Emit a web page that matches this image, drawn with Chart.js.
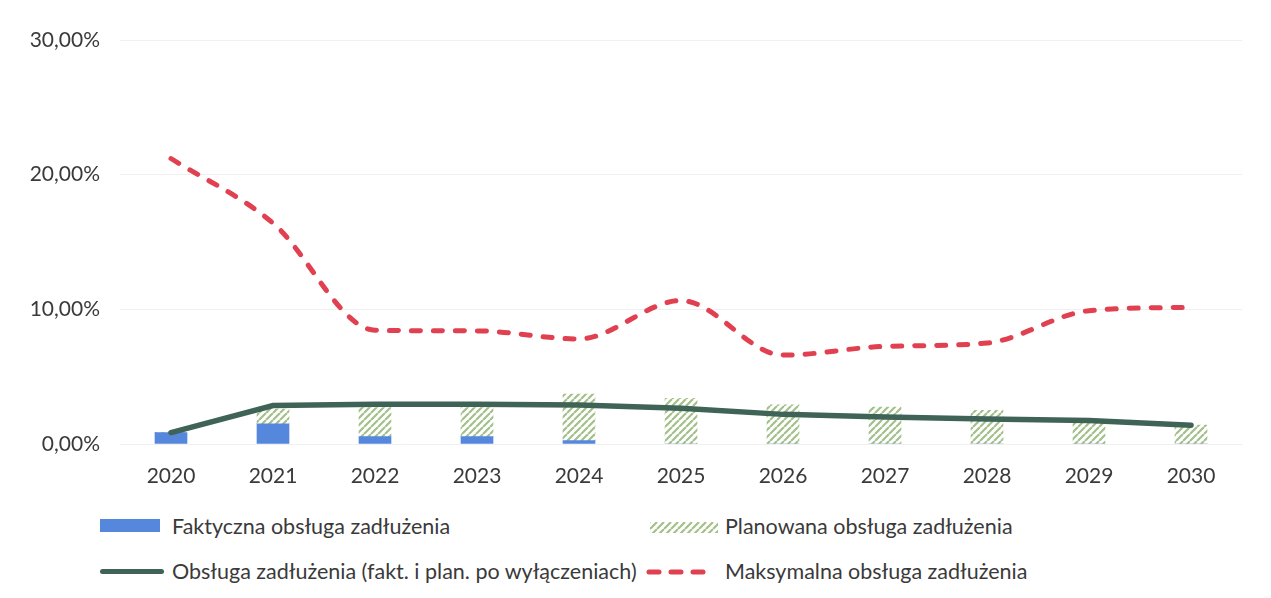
<!DOCTYPE html>
<html><head><meta charset="utf-8">
<script src="https://cdn.jsdelivr.net/npm/chart.js@4"></script>
<style>
html,body{margin:0;padding:0;background:#fff;}
#wrap{position:relative;width:1271px;height:598px;}
#c{position:absolute;left:0;top:0;}
.lg{position:absolute;font-family:Lato,"Open Sans",sans-serif;font-size:21.5px;color:#3a3a3a;white-space:nowrap;line-height:24px;}
.sw{position:absolute;}
</style></head>
<body><div id="wrap"><canvas id="c" width="1271" height="500"></canvas>
<div class="sw" style="left:100px;top:519px;width:60px;height:13px;background:#5587dc;"></div>
<div class="lg" style="left:172px;top:514px;">Faktyczna obsługa zadłużenia</div>
<canvas class="sw" id="hatchLg" width="68" height="11" style="left:650px;top:522px;"></canvas>
<div class="lg" style="left:725px;top:514px;">Planowana obsługa zadłużenia</div>
<div class="sw" style="left:100px;top:569px;width:64px;height:5px;background:#3f6356;border-radius:3px;"></div>
<div class="lg" style="left:172px;top:559px;">Obsługa zadłużenia (fakt. i plan. po wyłączeniach)</div>
<canvas class="sw" id="dashLg" width="70" height="10" style="left:644px;top:567px;"></canvas>
<div class="lg" style="left:725px;top:559px;">Maksymalna obsługa zadłużenia</div>
</div>
<script>
const years = ['2020','2021','2022','2023','2024','2025','2026','2027','2028','2029','2030'];
const faktyczna = [0.85, 1.5, 0.55, 0.55, 0.25, 0, 0, 0, 0, 0, 0];
const planowana = [0, 1.1, 2.15, 2.15, 3.45, 3.4, 2.9, 2.75, 2.5, 1.8, 1.4];
const obsluga = [0.85, 2.85, 2.95, 2.95, 2.9, 2.65, 2.2, 2.0, 1.85, 1.75, 1.4];
const maksymalna = [21.2, 16.4, 8.45, 8.4, 7.8, 10.65, 6.6, 7.25, 7.5, 9.9, 10.15];
const yTicks = [0, 10, 20, 30];

function hatch(){
  const p = document.createElement('canvas'); p.width = 7; p.height = 7;
  const g = p.getContext('2d');
  g.fillStyle = '#fff'; g.fillRect(0,0,7,7);
  g.strokeStyle = '#a3c08a'; g.lineWidth = 2.2;
  g.beginPath();
  for (let k=-7;k<=14;k+=7){ g.moveTo(k,7); g.lineTo(k+7,0); }
  g.stroke();
  return g.createPattern(p,'repeat');
}
const ctx = document.getElementById('c').getContext('2d');
const pat = hatch();
(function(){
  const h = document.getElementById('hatchLg').getContext('2d');
  h.fillStyle = hatch(); h.fillRect(0,0,68,11);
  const d = document.getElementById('dashLg').getContext('2d');
  d.strokeStyle = '#e0404f'; d.lineWidth = 5; d.lineCap = 'round';
  d.setLineDash([10,12]); d.beginPath(); d.moveTo(5,5); d.lineTo(66,5); d.stroke();
})();

const fmt = v => v.toFixed(2).replace('.', ',') + '%';
new Chart(ctx, {
  type: 'bar',
  data: {
    labels: years,
    datasets: [
      {label:'Faktyczna obsługa zadłużenia', data:faktyczna, backgroundColor:'#5587dc', stack:'b', order:2, barThickness:32},
      {label:'Planowana obsługa zadłużenia', data:planowana, backgroundColor:pat, stack:'b', order:2, barThickness:32},
      {type:'line', label:'Obsługa zadłużenia (fakt. i plan. po wyłączeniach)', data:obsluga, borderColor:'#3f6356', borderWidth:5.5, pointRadius:0, tension:0, stack:'l1', order:0, borderCapStyle:'round'},
      {type:'line', label:'Maksymalna obsługa zadłużenia', data:maksymalna, borderColor:'#e0404f', borderWidth:5, borderDash:[9,13], borderCapStyle:'round', pointRadius:0, cubicInterpolationMode:'monotone', stack:'l2', order:0}
    ]
  },
  options: {
    responsive:false, animation:false,
    layout:{padding:{top:40,right:29,left:0,bottom:0}},
    plugins:{legend:{display:false}, tooltip:{enabled:false}},
    scales:{
      x:{stacked:true, grid:{display:false}, border:{display:false},
         ticks:{color:'#3a3a3a', font:{family:'Lato', size:21}, padding:12},
         afterFit(s){ s.height = 56; }},
      y:{stacked:true, min:0, max:30,
         afterBuildTicks(s){ s.ticks = yTicks.map(v=>({value:v})); },
         grid:{color:'#f0f0f0', lineWidth:1, drawTicks:false}, border:{display:false},
         ticks:{color:'#3a3a3a', font:{family:'Lato', size:21}, padding:20, callback:v=>fmt(v)},
         afterFit(s){ s.width = 120; }}
    }
  }
});
</script></body></html>
